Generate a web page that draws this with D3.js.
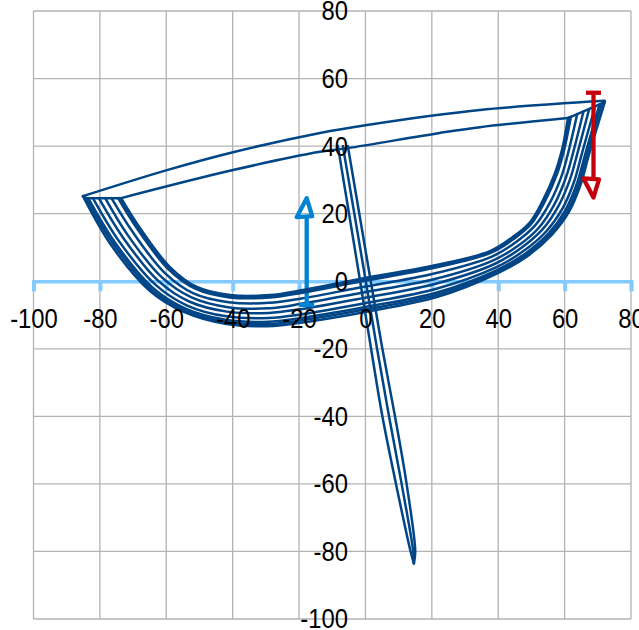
<!DOCTYPE html>
<html>
<head>
<meta charset="utf-8">
<script src="https://cdn.jsdelivr.net/npm/d3@7"></script>
<style>
html, body { margin: 0; padding: 0; background: #fff; overflow: hidden; }
svg { display: block; }
</style>
</head>
<body>
<script>
let width = 639;
let height = 630;

let xTicks = [-100, -80, -60, -40, -20, 0, 20, 40, 60, 80];
let yTicks = [80, 60, 40, 20, 0, -20, -40, -60, -80, -100];

// bowl shaped sweeps, innermost first, each is [x, y]
let sweep0 = [[-73.6,24.6],[-67.9,15.7],[-58.9,4.2],[-50.8,-1.7],[-40.8,-4.1],[-28.8,-4.1],[-18.8,-2.6],[-1.7,0.7],[20,4.5],[37.5,8.9],[44.4,13.1],[49.5,17.4],[53.5,24],[57.1,32],[59.2,38.8],[61,48.3]];
let sweep1 = [[-74.1,24.6],[-68.2,15.5],[-59.1,3.9],[-51,-2],[-40.9,-4.4],[-28.8,-4.5],[-18.9,-3],[-1.6,0.3],[20.1,4.1],[37.6,8.6],[44.6,12.9],[49.8,17.2],[53.8,23.9],[57.4,31.9],[59.5,38.7],[61.4,48.5]];
let sweep2 = [[-74.5,24.6],[-68.6,15.3],[-59.4,3.6],[-51.1,-2.3],[-40.9,-4.8],[-28.8,-4.8],[-18.9,-3.4],[-1.6,-0.1],[20.1,3.8],[37.7,8.4],[44.8,12.6],[50,17],[54.1,23.7],[57.7,31.7],[59.8,38.7],[61.9,48.7]];
let sweep3 = [[-76.5,24.6],[-70,14.4],[-60.4,2.4],[-51.8,-3.6],[-41.2,-6.2],[-29,-6.4],[-19.2,-5.1],[-1.3,-1.8],[20.4,2.2],[38.1,7.3],[45.5,11.7],[51.2,16.6],[55.5,23.1],[59.1,31.2],[61.2,38.5],[63.8,49.5]];
let sweep4 = [[-78.4,24.6],[-71.5,13.5],[-61.4,1.2],[-52.4,-4.8],[-41.4,-7.7],[-29,-8],[-19.4,-6.7],[-1.1,-3.4],[20.6,0.6],[38.5,6.2],[46.3,10.7],[52.3,15.9],[56.8,22.5],[60.4,30.7],[62.6,38.2],[65.7,50.3]];
let sweep5 = [[-80.3,24.6],[-72.8,12.6],[-62.4,0.1],[-53.1,-6],[-41.7,-9],[-29.1,-9.4],[-19.7,-8.3],[-0.8,-5],[20.9,-0.8],[38.9,5.1],[47,9.9],[53.4,15.4],[58,22],[61.6,30.1],[63.9,38],[67.4,51]];
let sweep6 = [[-82.1,24.6],[-74.2,11.8],[-63.3,-1],[-53.7,-7.2],[-41.9,-10.4],[-29.2,-10.9],[-19.9,-9.9],[-0.6,-6.6],[21.1,-2.3],[39.3,4.1],[47.7,9],[54.5,14.8],[59.3,21.4],[62.9,29.6],[65.2,37.8],[69.2,51.8]];
let sweep7 = [[-83.5,24.6],[-75.2,11.1],[-64.1,-1.9],[-54.2,-8.1],[-42.1,-11.4],[-29.3,-12],[-20.1,-11],[-0.4,-7.7],[21.3,-3.4],[39.6,3.3],[48.3,8.3],[55.3,14.3],[60.2,21],[63.8,29.2],[66.2,37.6],[70.5,52.3]];
let sweep8 = [[-84.3,24.8],[-75.8,10.8],[-64.5,-2.4],[-54.4,-8.6],[-42.2,-12],[-29.4,-12.7],[-20.2,-11.7],[-0.3,-8.4],[21.4,-4.1],[39.7,2.9],[48.6,7.9],[55.7,14.1],[60.8,20.7],[64.4,29],[66.7,37.5],[71.3,52.7]];
let sweep9 = [[-85.1,25.2],[-76.4,10.4],[-64.9,-2.9],[-54.7,-9.1],[-42.3,-12.6],[-29.4,-13.3],[-20.3,-12.4],[-0.2,-9.1],[21.5,-4.7],[39.9,2.4],[48.9,7.5],[56.2,13.8],[61.3,20.5],[64.9,28.8],[67.3,37.4],[72.1,53]];

// the two long lines across the top
let topOuter = [[-85.1,25.2],[-59.8,32.9],[-39.9,38.2],[-13.7,43.9],[0,46.2],[34.5,50.7],[72.1,53.4]];
let topInner = [[-73.6,24.6],[-39.9,32.9],[-13.7,38.3],[-5.3,39.4],[22.4,43.9],[34.5,45.6],[61,48.3]];

// short joins along the sweep ends
let leftEdge = [[-85.1,25.2],[-84.3,24.6],[-73.6,24.6]];
let rightEdge = [[61,48.3],[65.7,50.3],[72.1,53]];

// steep narrow part
let steepLeft = [[-8.3,40],[-1.6,0],[1.7,-20],[5.1,-40],[9.2,-60],[13.6,-80],[14.6,-83.5]];
let steepMid = [[-6.8,40],[0.1,0],[3.5,-20],[7.1,-40],[10.9,-60],[14.4,-80],[14.6,-83.5]];
let steepRight = [[-5.3,40],[1.6,0],[5.1,-20],[8.9,-40],[12.4,-60],[15,-80],[14.6,-83.5]];

// arrows: x, start y, tip y
let blueArrow = { x: -17.7, from: -7, to: 24.6 };
let redArrow = { x: 68.7, from: 55.8, to: 24.8 };

let x = d3.scaleLinear().domain([-100, 80]).range([33.5, 631]);
let y = d3.scaleLinear().domain([-100, 80]).range([619, 11]);

let svg = d3.select("body")
    .append("svg")
    .attr("width", width)
    .attr("height", height);

// Grid
svg.selectAll(".gridx")
    .data(xTicks)
    .enter().append("line")
    .attr("class", "gridx")
    .attr("x1", d => x(d)).attr("x2", d => x(d))
    .attr("y1", y(80)).attr("y2", y(-100))
    .attr("stroke", "#b3b3b3").attr("stroke-width", 1.3);

svg.selectAll(".gridy")
    .data(yTicks)
    .enter().append("line")
    .attr("class", "gridy")
    .attr("x1", x(-100)).attr("x2", x(80))
    .attr("y1", d => y(d)).attr("y2", d => y(d))
    .attr("stroke", "#b3b3b3").attr("stroke-width", 1.3);

// X axis line and ticks, labels come later so they sit over the curves
let gx = svg.append("g")
    .attr("transform", `translate(0,${y(0)})`)
    .call(d3.axisBottom(x).tickValues(xTicks).tickSize(10).tickFormat(""));
gx.select(".domain").attr("stroke", "#83caff").attr("stroke-width", 3.5);
gx.selectAll(".tick line").attr("stroke", "#83caff").attr("stroke-width", 4);

// Curves
let line = d3.line().x(d => x(d[0])).y(d => y(d[1]));
let curved = d3.line().x(d => x(d[0])).y(d => y(d[1])).curve(d3.curveCatmullRom.alpha(0.5));

function drawCurves(list, cls, gen) {
    svg.selectAll("." + cls)
        .data(list)
        .enter().append("path")
        .attr("class", cls)
        .attr("d", gen)
        .attr("fill", "none")
        .attr("stroke", "#004586")
        .attr("stroke-width", 2.5)
        .attr("stroke-linecap", "round")
        .attr("stroke-linejoin", "round");
}

drawCurves([leftEdge, rightEdge], "edge", line);
drawCurves([topOuter, topInner, steepLeft, steepMid, steepRight], "long", curved);
drawCurves([sweep9, sweep8, sweep7, sweep6, sweep5, sweep4, sweep3], "outerSweep", curved);

// Arrows
function drawArrow(a, color, headDir) {
    let g = svg.append("g")
        .attr("fill", "none")
        .attr("stroke", color)
        .attr("stroke-width", 4.3)
        .attr("stroke-linejoin", "round");
    let px = x(a.x);
    let base = y(a.from);
    let tip = y(a.to);
    g.append("line").attr("x1", px).attr("x2", px).attr("y1", base).attr("y2", tip + headDir * 18);
    g.append("line").attr("x1", px - 7.5).attr("x2", px + 7.5).attr("y1", base).attr("y2", base);
    g.append("path").attr("d", `M${px},${tip}L${px - 10},${tip + headDir * 19}L${px + 5.5},${tip + headDir * 18}Z`);
}

drawArrow(blueArrow, "#0084d1", 1);
drawCurves([sweep2, sweep1, sweep0], "innerSweep", curved);
drawArrow(redArrow, "#c5000b", -1);

// Tick labels
function styleLabels(g) {
    g.select(".domain").remove();
    g.selectAll("text")
        .style("font-family", "'Liberation Sans', Arial, sans-serif")
        .style("font-size", "28px")
        .attr("fill", "#000")
        .attr("lengthAdjust", "spacingAndGlyphs")
        .attr("textLength", function() { return this.getComputedTextLength() * 0.85; });
}

svg.append("g")
    .attr("transform", `translate(0,${y(0)})`)
    .call(d3.axisBottom(x).tickValues(xTicks).tickSize(0).tickPadding(27).tickFormat(d => String(d)))
    .call(styleLabels);

svg.append("g")
    .attr("transform", `translate(${x(0)},0)`)
    .call(d3.axisLeft(y).tickValues(yTicks).tickSize(0).tickPadding(17.5).tickFormat(d => String(d)))
    .call(styleLabels);
</script>
</body>
</html>
